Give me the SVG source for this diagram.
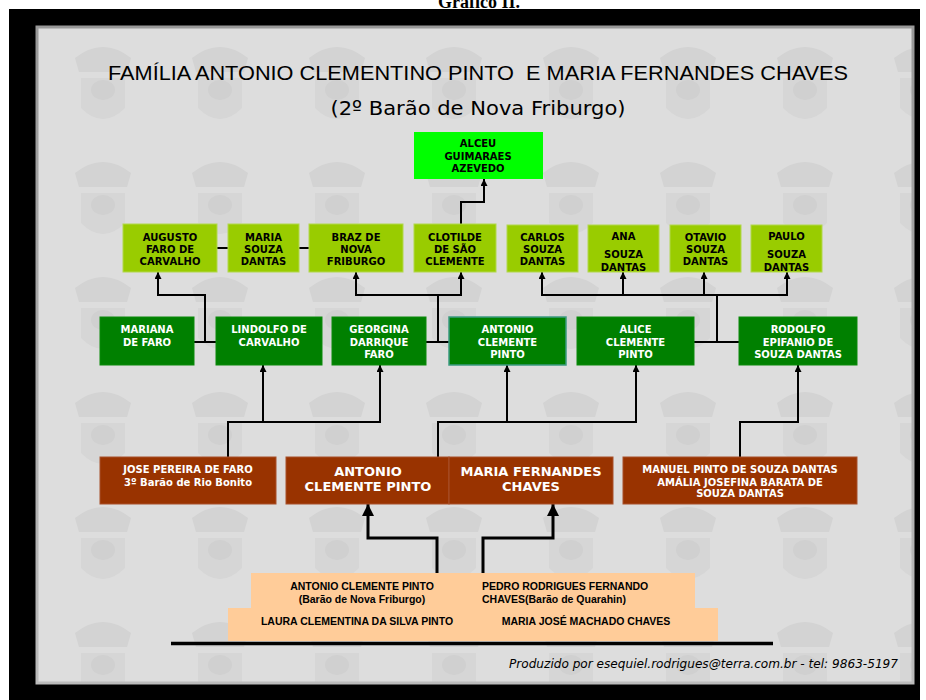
<svg xmlns="http://www.w3.org/2000/svg" width="926" height="700" viewBox="0 0 926 700">
<style>
.b{font-family:"DejaVu Sans",Verdana,sans-serif;font-weight:bold;font-size:10px;text-anchor:middle}
.k{fill:#000}
.w{fill:#fff}
.lg{fill:#99cc00;stroke:#b2d84c;stroke-width:1}
.dg{fill:#008000;stroke:#0a8a0a;stroke-width:1}
.br{fill:#993300;stroke:#a8502a;stroke-width:1}
.pe{fill:#ffcc99}
.c{fill:none;stroke:#000;stroke-width:2}
.c3{fill:none;stroke:#000;stroke-width:3}
.p{font-family:"Liberation Sans",Arial,sans-serif;font-weight:bold;font-size:10.5px;fill:#000}
</style>
<defs>
<marker id="a" viewBox="0 0 8 8" refX="8" refY="4" markerWidth="8" markerHeight="7" orient="auto" markerUnits="userSpaceOnUse"><path d="M0,0 L8,4 L0,8 z" fill="#000"/></marker>
<marker id="A" viewBox="0 0 10 10" refX="10" refY="5" markerWidth="14" markerHeight="12" orient="auto" markerUnits="userSpaceOnUse"><path d="M0,0 L10,5 L0,10 z" fill="#000"/></marker>
<pattern id="wm" x="45" y="28" width="117" height="115" patternUnits="userSpaceOnUse">
<rect width="117" height="115" fill="#dddddd"/>
<path d="M30,30 q28,-22 56,0 l-4,14 h-48 z" fill="#d3d3d3"/>
<path d="M36,50 h44 v30 q-22,22 -44,0 z" fill="#d6d6d6"/>
<ellipse cx="58" cy="62" rx="12" ry="10" fill="#d0d0d0"/>
</pattern>
<linearGradient id="edge" x1="0" y1="0" x2="0" y2="1"><stop offset="0" stop-color="#999"/><stop offset="1" stop-color="#bbb"/></linearGradient>
</defs>
<rect width="926" height="700" fill="#fff"/>
<text x="479" y="8" font-family="'Liberation Serif',serif" font-weight="bold" font-size="18" text-anchor="middle">Gráfico II.</text>
<rect x="9" y="9" width="911" height="691" fill="#000"/>
<rect x="37" y="27" width="876" height="656" fill="url(#wm)" stroke="url(#edge)" stroke-width="3"/>

<g id="title">
<text x="478" y="80" xml:space="preserve" font-family="'Liberation Sans',Arial,sans-serif" font-size="21" text-anchor="middle" textLength="740" lengthAdjust="spacingAndGlyphs" fill="#000">FAMÍLIA ANTONIO CLEMENTINO PINTO  E MARIA FERNANDES CHAVES</text>
<text x="478" y="115" font-family="'DejaVu Sans',Verdana,sans-serif" font-size="20" text-anchor="middle" textLength="295" lengthAdjust="spacingAndGlyphs" fill="#000">(2º Barão de Nova Friburgo)</text>
</g>

<g id="connectors">
<path class="c" d="M461,224 V202 H484 V179" marker-end="url(#a)"/>
<path class="c" d="M217,248 H228 M299,248 H309"/>
<path class="c" d="M194,342 H216 M426,342 H449 M694,342 H739"/>
<path class="c" d="M205,342 V295 H158 V272" marker-end="url(#a)"/>
<path class="c" d="M438,342 V295 H356 V272" marker-end="url(#a)"/>
<path class="c" d="M438,295 H461 V272" marker-end="url(#a)"/>
<path class="c" d="M717,342 V295 H542 V272" marker-end="url(#a)"/>
<path class="c" d="M717,295 H787 V272" marker-end="url(#a)"/>
<path class="c" d="M623,295 V272" marker-end="url(#a)"/>
<path class="c" d="M704,295 V272" marker-end="url(#a)"/>
<path class="c" d="M228,457 V422 H380 V365" marker-end="url(#a)"/>
<path class="c" d="M263,422 V365" marker-end="url(#a)"/>
<path class="c" d="M438,457 V422 H636 V365" marker-end="url(#a)"/>
<path class="c" d="M507,422 V365" marker-end="url(#a)"/>
<path class="c" d="M740,457 V422 H798 V365" marker-end="url(#a)"/>
<path class="c3" d="M437,573 V538 H368 V504" marker-end="url(#A)"/>
<path class="c3" d="M483,573 V538 H553 V504" marker-end="url(#A)"/>
</g>

<g id="alceu"><rect x="414" y="132" width="129" height="47" fill="#00ff00"/>
<text class="b k"><tspan x="478" y="147">ALCEU</tspan><tspan x="478" y="160">GUIMARAES</tspan><tspan x="478" y="172">AZEVEDO</tspan></text></g>

<g id="augusto"><rect class="lg" x="123" y="224" width="94" height="48"/>
<text class="b k"><tspan x="170" y="241">AUGUSTO</tspan><tspan x="170" y="253">FARO DE</tspan><tspan x="170" y="265">CARVALHO</tspan></text></g>
<g id="maria-souza"><rect class="lg" x="228" y="224" width="71" height="48"/>
<text class="b k"><tspan x="263.5" y="241">MARIA</tspan><tspan x="263.5" y="253">SOUZA</tspan><tspan x="263.5" y="265">DANTAS</tspan></text></g>
<g id="braz"><rect class="lg" x="309" y="224" width="94" height="48"/>
<text class="b k"><tspan x="356" y="241">BRAZ DE</tspan><tspan x="356" y="253">NOVA</tspan><tspan x="356" y="265">FRIBURGO</tspan></text></g>
<g id="clotilde"><rect class="lg" x="414" y="224" width="82" height="48"/>
<text class="b k"><tspan x="455" y="241">CLOTILDE</tspan><tspan x="455" y="253">DE SÃO</tspan><tspan x="455" y="265">CLEMENTE</tspan></text></g>
<g id="carlos"><rect class="lg" x="507" y="225" width="71" height="47"/>
<text class="b k"><tspan x="542.5" y="241">CARLOS</tspan><tspan x="542.5" y="253">SOUZA</tspan><tspan x="542.5" y="265">DANTAS</tspan></text></g>
<g id="ana"><rect class="lg" x="588" y="225" width="71" height="47"/>
<text class="b k"><tspan x="623.5" y="240">ANA</tspan><tspan x="623.5" y="258">SOUZA</tspan><tspan x="623.5" y="271">DANTAS</tspan></text></g>
<g id="otavio"><rect class="lg" x="670" y="225" width="71" height="47"/>
<text class="b k"><tspan x="705.5" y="241">OTAVIO</tspan><tspan x="705.5" y="253">SOUZA</tspan><tspan x="705.5" y="265">DANTAS</tspan></text></g>
<g id="paulo"><rect class="lg" x="751" y="225" width="71" height="47"/>
<text class="b k"><tspan x="786.5" y="240">PAULO</tspan><tspan x="786.5" y="258">SOUZA</tspan><tspan x="786.5" y="271">DANTAS</tspan></text></g>

<g id="mariana"><rect class="dg" x="100" y="317" width="94" height="48"/>
<text class="b w"><tspan x="147" y="333">MARIANA</tspan><tspan x="147" y="346">DE FARO</tspan></text></g>
<g id="lindolfo"><rect class="dg" x="216" y="317" width="106" height="48"/>
<text class="b w"><tspan x="269" y="333">LINDOLFO DE</tspan><tspan x="269" y="346">CARVALHO</tspan></text></g>
<g id="georgina"><rect class="dg" x="332" y="317" width="94" height="48"/>
<text class="b w"><tspan x="379" y="333">GEORGINA</tspan><tspan x="379" y="346">DARRIQUE</tspan><tspan x="379" y="358">FARO</tspan></text></g>
<g id="antonio-cp"><rect x="449" y="317" width="117" height="48" fill="#008000" stroke="#3b9a80" stroke-width="1.5"/>
<text class="b w"><tspan x="507.5" y="333">ANTONIO</tspan><tspan x="507.5" y="346">CLEMENTE</tspan><tspan x="507.5" y="358">PINTO</tspan></text></g>
<g id="alice"><rect class="dg" x="577" y="317" width="117" height="48"/>
<text class="b w"><tspan x="635.5" y="333">ALICE</tspan><tspan x="635.5" y="346">CLEMENTE</tspan><tspan x="635.5" y="358">PINTO</tspan></text></g>
<g id="rodolfo"><rect class="dg" x="739" y="317" width="118" height="48"/>
<text class="b w"><tspan x="798" y="333">RODOLFO</tspan><tspan x="798" y="346">EPIFANIO DE</tspan><tspan x="798" y="358">SOUZA DANTAS</tspan></text></g>

<g id="jose"><rect class="br" x="100" y="457" width="176" height="47"/>
<text class="b w"><tspan x="188" y="473">JOSE PEREIRA DE FARO</tspan><tspan x="188" y="486">3º Barão de Rio Bonito</tspan></text></g>
<g id="antonio-maria"><rect class="br" x="286" y="457" width="163" height="47"/><rect class="br" x="449" y="457" width="164" height="47"/>
<text class="b w" style="font-size:13px"><tspan x="368" y="476">ANTONIO</tspan><tspan x="368" y="491">CLEMENTE PINTO</tspan><tspan x="531" y="476">MARIA FERNANDES</tspan><tspan x="531" y="491">CHAVES</tspan></text></g>
<g id="manuel"><rect class="br" x="623" y="457" width="234" height="47"/>
<text class="b w"><tspan x="740" y="473">MANUEL PINTO DE SOUZA DANTAS</tspan><tspan x="740" y="486">AMÁLIA JOSEFINA BARATA DE</tspan><tspan x="740" y="497">SOUZA DANTAS</tspan></text></g>

<g id="ancestors"><rect class="pe" x="251" y="573" width="444" height="36"/><rect class="pe" x="228" y="608" width="490" height="33"/>
<text class="p" text-anchor="middle"><tspan x="362" y="590">ANTONIO CLEMENTE PINTO</tspan><tspan x="362" y="603">(Barão de Nova Friburgo)</tspan><tspan x="357" y="625">LAURA CLEMENTINA DA SILVA PINTO</tspan><tspan x="586" y="625">MARIA JOSÉ MACHADO CHAVES</tspan></text>
<text class="p"><tspan x="482" y="590">PEDRO RODRIGUES FERNANDO</tspan><tspan x="482" y="603">CHAVES(Barão de Quarahin)</tspan></text></g>
<line x1="171" y1="643.5" x2="773" y2="643.5" stroke="#000" stroke-width="3.5"/>
<text x="509" y="668" font-family="'DejaVu Sans',sans-serif" font-style="italic" font-size="12" textLength="389" lengthAdjust="spacingAndGlyphs" fill="#000">Produzido por esequiel.rodrigues@terra.com.br - tel: 9863-5197</text>
</svg>
